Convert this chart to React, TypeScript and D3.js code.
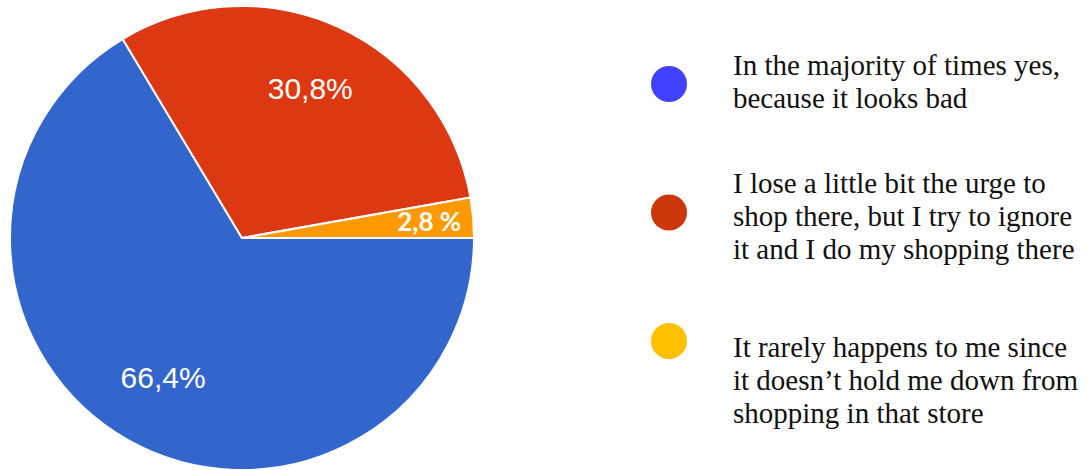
import React from "react";
import * as d3 from "d3";

const categories = [
  "In the majority of times yes, because it looks bad",
  "I lose a little bit the urge to shop there, but I try to ignore it and I do my shopping there",
  "It rarely happens to me since it doesn’t hold me down from shopping in that store",
];
const values = [66.4, 30.8, 2.8];
const sliceLabels = ["66,4%", "30,8%", "2,8 %"];
const legendLines = [
  ["In the majority of times yes,", "because it looks bad"],
  ["I lose a little bit the urge to", "shop there, but I try to ignore", "it and I do my shopping there"],
  ["It rarely happens to me since", "it doesn’t hold me down from", "shopping in that store"],
];

const sliceColors = ["#3366CC", "#DC3912", "#FF9900"];
const legendColors = ["#4040FF", "#CB360B", "#FFC000"];

const W = 1090;
const H = 470;
const cx = 242;
const cy = 238;
const R = 232;

export default function App() {
  const pie = d3
    .pie<number>()
    .sort(null)
    .value((d) => d)
    .startAngle(Math.PI / 2)
    .endAngle(Math.PI / 2 + 2 * Math.PI);
  const arcs = pie(values);
  const arc = d3.arc<d3.PieArcDatum<number>>().innerRadius(0).outerRadius(R);
  const labelRadii = [0.69 * R, 0.71 * R, 0.81 * R];
  const labelStyles = [
    { fontFamily: "'Liberation Sans', Arial, sans-serif", fontWeight: 400, fontSize: 30 },
    { fontFamily: "'Liberation Sans', Arial, sans-serif", fontWeight: 400, fontSize: 30 },
    { fontFamily: "Lato, 'Open Sans', sans-serif", fontWeight: 700, fontSize: 26 },
  ];

  const legendY = d3.scalePoint<number>().domain([0, 1, 2]).range([84, 341]);
  const lineStarts = [75, 193, 357];

  return (
    <svg
      width={W}
      height={H}
      style={{ position: "absolute", left: 0, top: 0, background: "#fff" }}
    >
      <g transform={`translate(${cx},${cy})`}>
        {arcs.map((a, i) => (
          <path
            key={categories[i]}
            d={arc(a) || ""}
            fill={sliceColors[i]}
            stroke="#fff"
            strokeWidth={2}
            strokeLinejoin="round"
          />
        ))}
        {arcs.map((a, i) => {
          const mid = (a.startAngle + a.endAngle) / 2;
          const r = labelRadii[i];
          const x = Math.sin(mid) * r;
          const y = -Math.cos(mid) * r;
          return (
            <text
              key={"l" + i}
              x={x}
              y={y}
              dy="0.35em"
              textAnchor="middle"
              fill="#fff"
              style={labelStyles[i]}
            >
              {sliceLabels[i]}
            </text>
          );
        })}
      </g>
      {categories.map((c, i) => (
        <g key={"leg" + i}>
          <circle cx={669} cy={legendY(i)} r={18} fill={legendColors[i]} />
          {legendLines[i].map((ln, j) => (
            <text
              key={j}
              x={733}
              y={lineStarts[i] + j * 33}
              fill="#111"
              style={{ fontFamily: "'Liberation Serif', 'Times New Roman', serif", fontSize: 29 }}
            >
              {ln}
            </text>
          ))}
        </g>
      ))}
    </svg>
  );
}
